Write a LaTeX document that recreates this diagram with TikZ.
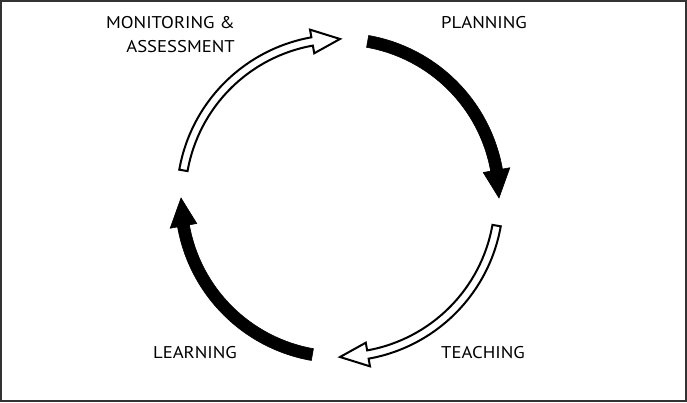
\documentclass[tikz,border=0pt]{standalone}
\usepackage{fontspec}
\setmainfont{PT Sans}
\newcommand\cycarrow[5]{% #1 tail angle, #2 tip angle, #3 half shaft, #4 half head, #5 style
  \pgfmathsetmacro\hb{#2+10.1}%
  \pgfmathsetmacro\ro{159+#3}%
  \pgfmathsetmacro\ri{159-#3}%
  \pgfmathsetmacro\rho{159+#4}%
  \pgfmathsetmacro\rhi{159-#4}%
  \path[#5] (#1:\ro) arc[start angle=#1, end angle=\hb, radius=\ro pt]
    -- (\hb:\rho) -- (#2:159) -- (\hb:\rhi) -- (\hb:\ri)
    arc[start angle=\hb, end angle=#1, radius=\ri pt] -- cycle;
}
\newcommand\lt[1]{\scalebox{1.1}[1]{#1}}
\begin{document}
\begin{tikzpicture}[x=1pt,y=1pt,
  lbl/.style={font=\fontsize{17}{20}\selectfont, inner sep=0pt},
  blackarrow/.style={fill=black, draw=black, line width=0.6pt, line join=miter},
  whitearrow/.style={fill=white, draw=black, line width=2pt, line join=miter}]
\useasboundingbox (0,0) rectangle (687,403);
\draw[line width=1.5pt, draw=black!80] (1,2) rectangle (686,402);
\begin{scope}[shift={(340,205)}]
  \cycarrow{80}{0}{6}{13.5}{blackarrow}
  \cycarrow{-10}{-90}{4.2}{12}{whitearrow}
  \cycarrow{260}{180}{6}{13.5}{blackarrow}
  \cycarrow{170}{90}{4.2}{12}{whitearrow}
\end{scope}
\node[lbl, anchor=base] (plan) at (484,374) {\lt{PLANNING}};
\node[lbl, anchor=base east] (mon) at (235,374) {\lt{MONITORING \&}};
\node[lbl, anchor=base east] (ass) at (235,350) {\lt{ASSESSMENT}};
\node[lbl, anchor=base] (learning) at (195,44) {\lt{LEARNING}};
\node[lbl, anchor=base] (teach) at (483,44) {\lt{TEACHING}};
\end{tikzpicture}
\end{document}
